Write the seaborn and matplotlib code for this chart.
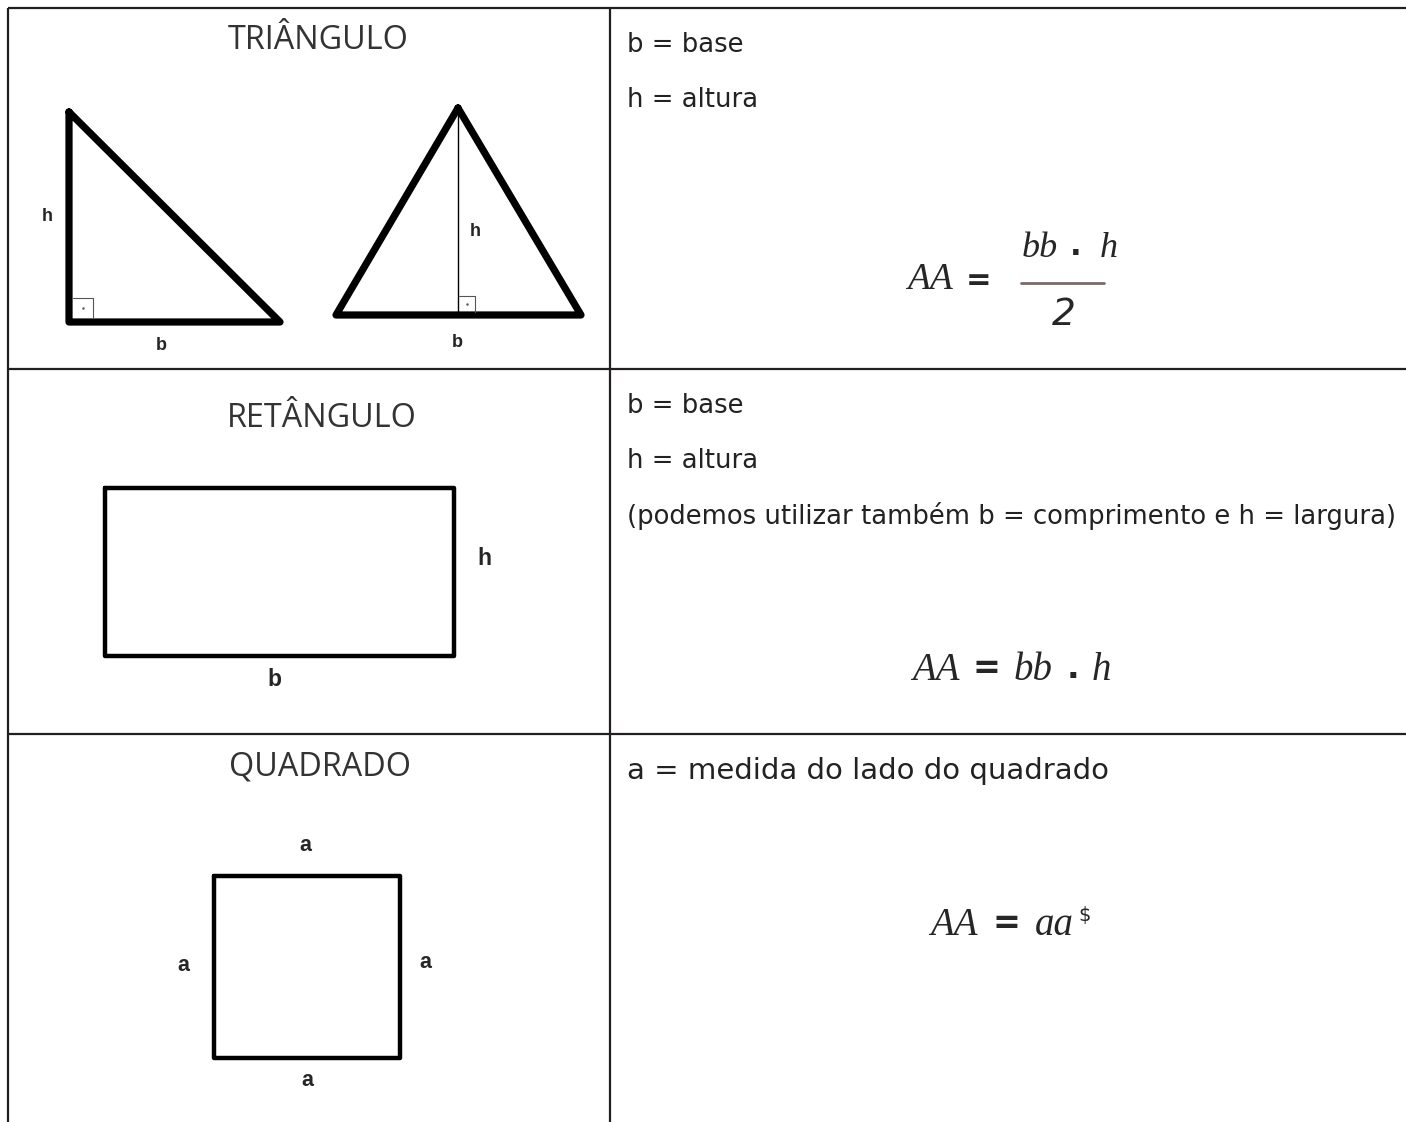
import matplotlib
matplotlib.use("Agg")
import matplotlib.pyplot as plt
import seaborn as sns

# ---------------------------------------------------------------------------
# Data (pixel coordinates of the reference sheet, y grows downward)
# ---------------------------------------------------------------------------

row_lines = [8, 369, 734]
col_lines = [8, 610]

titles = ["TRIÂNGULO", "RETÂNGULO", "QUADRADO"]
title_x = [318, 322, 320]
title_y = [40, 418, 767]

right_tri_x = [69, 69, 280, 69]
right_tri_y = [112, 322, 322, 112]
iso_tri_x = [458, 336, 581, 458]
iso_tri_y = [108, 315, 315, 108]
altitude_x = [458, 458]
altitude_y = [108, 315]

rect_x = [105, 454, 454, 105, 105]
rect_y = [488, 488, 656, 656, 488]
square_x = [214, 400, 400, 214, 214]
square_y = [876, 876, 1058, 1058, 876]

tri_labels = ["h", "b", "h", "b"]
tri_label_x = [47, 161, 475, 457]
tri_label_y = [216, 345, 231, 342]
rect_labels = ["h", "b"]
rect_label_x = [484, 274]
rect_label_y = [558, 679]
square_labels = ["a", "a", "a", "a"]
square_label_x = [305, 183, 425, 307]
square_label_y = [845, 965, 962, 1081]

legend_lines = ["b = base", "h = altura", "b = base", "h = altura",
                "(podemos utilizar também b = comprimento e h = largura)"]
legend_y = [45, 100, 406, 461, 516]
square_note = "a = medida do lado do quadrado"

LINE = "#231f20"
MATH = "Liberation Serif"


def outline(ax, xs, ys, lw, color="black"):
    sns.lineplot(x=xs, y=ys, sort=False, estimator=None, color=color,
                 linewidth=lw, solid_joinstyle="round",
                 solid_capstyle="round", ax=ax)


def right_angle(ax, x0, y0, size):
    ax.plot([x0, x0 + size, x0 + size], [y0 - size, y0 - size, y0],
            lw=0.8, color="#555555")
    ax.plot([x0 + size / 2], [y0 - size / 2], marker=".",
            markersize=1.5, color="#555555")


def labels(ax, texts, xs, ys, size):
    for t, x, y in zip(texts, xs, ys):
        ax.text(x, y, t, fontsize=size, fontweight="bold",
                family="Liberation Sans", ha="center", va="center")


sns.set_theme(style="white")
fig = plt.figure(figsize=(14.06, 11.22), dpi=100)
ax = fig.add_axes([0, 0, 1, 1])
ax.set_xlim(0, 1406)
ax.set_ylim(1122, 0)
ax.axis("off")

# --- table grid ---
for y in row_lines:
    ax.plot([col_lines[0], 1406], [y, y], color=LINE, lw=1.6,
            solid_capstyle="butt")
for x in col_lines:
    ax.plot([x, x], [row_lines[0], 1122], color=LINE, lw=1.6,
            solid_capstyle="butt")

# --- titles ---
for t, x, y in zip(titles, title_x, title_y):
    ax.text(x, y, t, fontsize=23.3, family="Open Sans", color="#333333",
            ha="center", va="center")

# --- shapes ---
outline(ax, right_tri_x, right_tri_y, 5.2)
outline(ax, iso_tri_x, iso_tri_y, 5.2)
outline(ax, altitude_x, altitude_y, 1.0)
right_angle(ax, 73, 318, 20)
right_angle(ax, 459, 312, 16)
outline(ax, rect_x, rect_y, 3.2)
outline(ax, square_x, square_y, 3.2)

labels(ax, tri_labels, tri_label_x, tri_label_y, 13)
labels(ax, rect_labels, rect_label_x, rect_label_y, 16.5)
labels(ax, square_labels, square_label_x, square_label_y, 15.5)

# --- right column text ---
for t, y in zip(legend_lines, legend_y):
    ax.text(627, y, t, fontsize=18.6, family="DejaVu Sans",
            color="#222222", ha="left", va="center")
ax.text(627, 771, square_note, fontsize=21, family="DejaVu Sans",
        color="#222222", ha="left", va="center")

# --- formulas ---
ax.text(907, 280, "AA", fontsize=27, family=MATH, style="italic",
        ha="left", va="center")
ax.text(966, 280, "=", fontsize=22, family="DejaVu Sans",
        fontweight="bold", ha="left", va="center")
ax.text(1022, 248, "bb", fontsize=26, family=MATH, style="italic",
        ha="left", va="center")
ax.text(1070, 246, ".", fontsize=22, family="DejaVu Sans",
        fontweight="bold", ha="left", va="center")
ax.text(1100, 248, "h", fontsize=26, family=MATH, style="italic",
        ha="left", va="center")
ax.plot([1021, 1104], [283, 283], color="#7a6a6a", lw=2)
ax.text(1064, 315, "2", fontsize=27, family="DejaVu Sans", style="italic",
        ha="center", va="center")

ax.text(912, 670, "AA", fontsize=28, family=MATH, style="italic",
        ha="left", va="center")
ax.text(972, 668, "=", fontsize=24, family="DejaVu Sans",
        fontweight="bold", ha="left", va="center")
ax.text(1014, 670, "bb", fontsize=28, family=MATH, style="italic",
        ha="left", va="center")
ax.text(1067, 668, ".", fontsize=24, family="DejaVu Sans",
        fontweight="bold", ha="left", va="center")
ax.text(1092, 670, "h", fontsize=28, family=MATH, style="italic",
        ha="left", va="center")

ax.text(930, 925, "AA", fontsize=28, family=MATH, style="italic",
        ha="left", va="center")
ax.text(992, 923, "=", fontsize=24, family="DejaVu Sans",
        fontweight="bold", ha="left", va="center")
ax.text(1035, 925, "aa", fontsize=28, family=MATH, style="italic",
        ha="left", va="center")
ax.text(1078, 915, "$", fontsize=14, family="DejaVu Sans",
        ha="left", va="center")

fig.savefig("out.png", dpi=100, facecolor="white")
